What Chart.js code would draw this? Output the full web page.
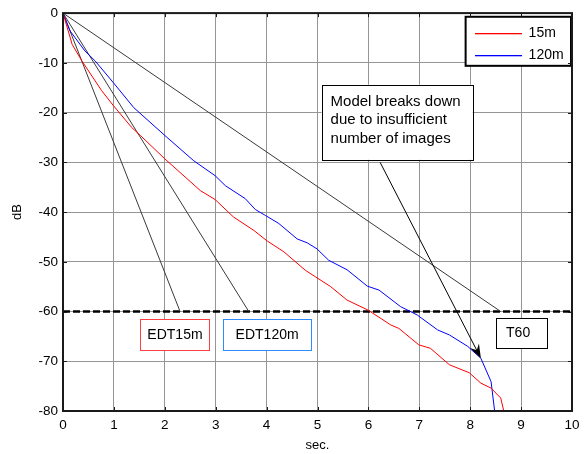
<!DOCTYPE html>
<html>
<head>
<meta charset="utf-8">
<script src="https://cdn.jsdelivr.net/npm/chart.js@4/dist/chart.umd.min.js"></script>
<style>
  html, body { margin: 0; padding: 0; background: #fff; }
  #wrap { width: 587px; height: 454px; position: relative; }
</style>
</head>
<body>
<div id="wrap"><canvas id="decayChart"></canvas></div>
<script>
// decay curves (sec, dB)
var sec15m = [0, 0.18, 0.37, 0.76, 0.99, 1.35, 1.52, 2.0, 2.7, 2.99, 3.35, 3.75, 4.01, 4.34, 4.76, 5.26, 5.58, 5.99, 6.44, 6.6, 6.99, 7.22, 7.59, 7.98, 8.21, 8.41, 8.6, 8.66];
var db15m = [0, -6.3, -9.6, -15.6, -18.6, -23, -24.6, -29.3, -35.7, -37.5, -41, -43.7, -45.8, -48, -51.7, -55, -57.7, -59.7, -62.7, -63.4, -66.7, -67.4, -70.7, -72.3, -74.4, -75.4, -77.4, -80];

var sec120m = [0, 0.14, 0.43, 0.63, 0.99, 1.39, 2.0, 2.57, 2.99, 3.19, 3.58, 3.78, 3.98, 4.24, 4.6, 4.8, 4.99, 5.22, 5.58, 5.98, 6.21, 6.63, 6.96, 7.36, 7.59, 7.95, 8.21, 8.41, 8.48];
var db120m = [0, -3.6, -7.6, -9.6, -14, -19, -24.6, -29.7, -32.7, -34.7, -37.3, -39.5, -40.7, -42.3, -45.4, -46.2, -47.4, -49.7, -51.6, -54.9, -55.7, -59, -60.7, -63.7, -64.7, -67, -69.4, -74.1, -80];

// straight-line fits from the origin down to -60 dB
var edt15mEnd = [2.3, -60];
var edt120mEnd = [3.65, -60];
var t60End = [8.6, -60];
var thresholdDb = -60;

var xTicks = [0, 1, 2, 3, 4, 5, 6, 7, 8, 9, 10];
var yTicks = [0, -10, -20, -30, -40, -50, -60, -70, -80];

// arrow: from the note box to the blue curve where it bends
var arrowFrom = [6.23, -30];
var arrowTo = [8.21, -69.4];

function toPoints(xs, ys) {
    return xs.map(function(x, i) { return { x: x, y: ys[i] }; });
}

Chart.defaults.font.family = '"Liberation Sans", Arial, sans-serif';
Chart.defaults.color = '#000';

var FAMILY = '"Liberation Sans", Arial, sans-serif';

function box(ctx, x1, y1, x2, y2, stroke) {
    ctx.fillStyle = '#fff';
    ctx.fillRect(x1, y1, x2 - x1, y2 - y1);
    ctx.strokeStyle = stroke;
    ctx.lineWidth = 1;
    ctx.strokeRect(Math.round(x1) + 0.5, Math.round(y1) + 0.5, Math.round(x2 - x1), Math.round(y2 - y1));
}

var annotations = {
    id: 'annotations',
    afterDatasetsDraw: function(chart) {
        var ctx = chart.ctx;
        var xs = chart.scales.x, ys = chart.scales.y;
        var a = chart.chartArea;
        var px = function(v) { return xs.getPixelForValue(v); };
        var py = function(v) { return ys.getPixelForValue(v); };
        ctx.save();
        ctx.setLineDash([]);

        // arrow
        var x1 = px(arrowFrom[0]), y1 = py(arrowFrom[1]);
        var x2 = px(arrowTo[0]), y2 = py(arrowTo[1]);
        var c = Math.cos(Math.atan2(y2 - y1, x2 - x1)), s = Math.sin(Math.atan2(y2 - y1, x2 - x1));
        ctx.strokeStyle = '#000';
        ctx.lineWidth = 1;
        ctx.beginPath();
        ctx.moveTo(x1, y1);
        ctx.lineTo(x2 - 8 * c, y2 - 8 * s);
        ctx.stroke();
        ctx.fillStyle = '#000';
        ctx.beginPath();
        ctx.moveTo(x2, y2);
        ctx.lineTo(x2 - 14 * c + 5 * s, y2 - 14 * s - 5 * c);
        ctx.lineTo(x2 - 9 * c, y2 - 9 * s);
        ctx.lineTo(x2 - 14 * c - 5 * s, y2 - 14 * s + 5 * c);
        ctx.closePath();
        ctx.fill();

        ctx.textBaseline = 'middle';

        // note box
        box(ctx, px(5.08), py(-14.4), px(8.05), py(-29.5), '#000');
        ctx.fillStyle = '#000';
        ctx.textAlign = 'left';
        ctx.font = '15px ' + FAMILY;
        ['Model breaks down', 'due to insufficient', 'number of images'].forEach(function(t, i) {
            ctx.fillText(t, px(5.08) + 9, py(-14.4) + 17 + i * 18.5);
        });

        // labels under the -60 dB line
        ctx.font = '14px ' + FAMILY;
        box(ctx, px(1.52), py(-61.6), px(2.88), py(-67.9), '#ff4040');
        box(ctx, px(3.15), py(-61.6), px(4.87), py(-67.9), '#2f8cff');
        box(ctx, px(8.5), py(-61.3), px(9.5), py(-67.4), '#000');
        ctx.fillStyle = '#000';
        ctx.textAlign = 'center';
        ctx.fillText('EDT15m', (px(1.52) + px(2.88)) / 2, (py(-61.6) + py(-67.9)) / 2);
        ctx.fillText('EDT120m', (px(3.15) + px(4.87)) / 2, (py(-61.6) + py(-67.9)) / 2);
        ctx.fillText('T60', (px(8.5) + px(9.5)) / 2 - 3, (py(-61.3) + py(-67.4)) / 2);

        // legend
        var lx1 = px(7.91), ly1 = py(-0.74), lx2 = a.right - 1, ly2 = py(-10.6);
        ctx.fillStyle = '#fff';
        ctx.fillRect(lx1, ly1, lx2 - lx1, ly2 - ly1);
        ctx.strokeStyle = '#000';
        ctx.lineWidth = 2;
        ctx.strokeRect(lx1, ly1, lx2 - lx1, ly2 - ly1);
        [['15m', '#ff0000', 16.5], ['120m', '#0000ff', 38.5]].forEach(function(it) {
            ctx.fillStyle = it[1];
            ctx.fillRect(Math.round(lx1 + 9), Math.round(ly1 + it[2]), 47, 1.3);
            ctx.fillStyle = '#000';
            ctx.textAlign = 'left';
            ctx.fillText(it[0], lx1 + 63, ly1 + it[2]);
        });

        // axes frame and inward ticks
        ctx.strokeStyle = '#1a1a1a';
        ctx.lineWidth = 2;
        ctx.strokeRect(a.left, a.top, a.right - a.left, a.bottom - a.top);
        ctx.lineWidth = 1;
        ctx.beginPath();
        xTicks.forEach(function(v) {
            var x = Math.round(px(v)) + 0.5;
            ctx.moveTo(x, a.bottom); ctx.lineTo(x, a.bottom - 4);
            ctx.moveTo(x, a.top); ctx.lineTo(x, a.top + 4);
        });
        yTicks.forEach(function(v) {
            var y = Math.round(py(v)) + 0.5;
            ctx.moveTo(a.left, y); ctx.lineTo(a.left + 4, y);
            ctx.moveTo(a.right, y); ctx.lineTo(a.right - 4, y);
        });
        ctx.stroke();
        ctx.restore();
    }
};

var lineStyle = { showLine: true, pointRadius: 0, borderWidth: 1, tension: 0, fill: false };

new Chart(document.getElementById('decayChart'), {
    type: 'scatter',
    data: {
        datasets: [
            Object.assign({ label: '15m', data: toPoints(sec15m, db15m), borderColor: '#ff0000' }, lineStyle),
            Object.assign({ label: '120m', data: toPoints(sec120m, db120m), borderColor: '#0000ff' }, lineStyle),
            Object.assign({ label: 'EDT15m', data: toPoints([0, edt15mEnd[0]], [0, edt15mEnd[1]]), borderColor: '#3a3a3a' }, lineStyle),
            Object.assign({ label: 'EDT120m', data: toPoints([0, edt120mEnd[0]], [0, edt120mEnd[1]]), borderColor: '#3a3a3a' }, lineStyle),
            Object.assign({ label: 'T60', data: toPoints([0, t60End[0]], [0, t60End[1]]), borderColor: '#3a3a3a' }, lineStyle),
            Object.assign({}, lineStyle, { label: '-60 dB', data: toPoints([0, 10], [thresholdDb, thresholdDb]), borderColor: '#000', borderWidth: 2.5, borderDash: [7, 3] })
        ]
    },
    options: {
        responsive: true,
        maintainAspectRatio: false,
        animation: false,
        layout: { padding: { top: 12, right: 15, left: 0, bottom: 0 } },
        plugins: { legend: { display: false }, tooltip: { enabled: false } },
        scales: {
            x: {
                type: 'linear', min: 0, max: 10,
                afterBuildTicks: function(scale) { scale.ticks = xTicks.map(function(v) { return { value: v }; }); },
                afterFit: function(scale) { scale.height = 43; },
                ticks: { padding: 6, font: { size: 13.5 }, color: '#000' },
                grid: { color: '#959595', drawTicks: false },
                border: { display: false },
                title: { display: true, text: 'sec.', font: { size: 13 }, color: '#000', padding: { top: 0, bottom: 1 } }
            },
            y: {
                type: 'linear', min: -80, max: 0,
                afterBuildTicks: function(scale) { scale.ticks = yTicks.map(function(v) { return { value: v }; }); },
                afterFit: function(scale) { scale.width = 63; },
                ticks: { padding: 5, font: { size: 13.5 }, color: '#000',
                    callback: function(v) { return v < 0 ? '-' + Math.abs(v) : String(v); } },
                grid: { color: '#959595', drawTicks: false },
                border: { display: false },
                title: { display: true, text: 'dB', font: { size: 13 }, color: '#000', padding: { top: 10, bottom: 0 } }
            }
        }
    },
    plugins: [annotations]
});
</script>
</body>
</html>
